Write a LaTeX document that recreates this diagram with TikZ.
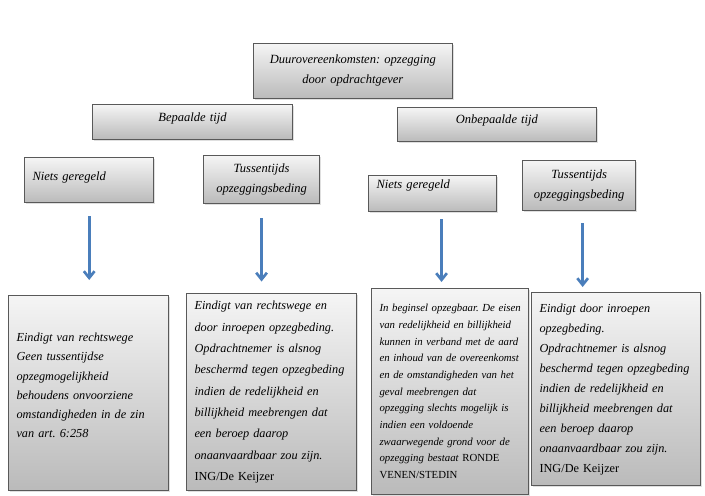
\documentclass[tikz,border=0pt]{standalone}
\usepackage{fontspec}
\setmainfont{Liberation Serif}
\usepackage{tikz}
\usetikzlibrary{positioning,shadows,arrows.meta}
\definecolor{boxline}{HTML}{595959}
\definecolor{arrowblue}{HTML}{4A7EBB}
\frenchspacing

\begin{document}
\begin{tikzpicture}[x=0.75pt,y=-0.75pt,
  box/.style = {draw=boxline, line width=0.8pt, top color=black!4, bottom color=black!27,
    drop shadow={opacity=0.25,shadow xshift=1.2pt,shadow yshift=-1.2pt},
    anchor=north west, inner ysep=0pt, inner xsep=6pt, font=\fontsize{9.4}{15}\selectfont\itshape},
  arr/.style = {draw=arrowblue, line width=2pt, -{Straight Barb[length=5pt,width=8pt]}}]
\useasboundingbox (0,0) rectangle (705,495);

% top levels
\node[box, text width=137pt, minimum height=41pt, align=center] (top) at (253,43)
  {Duurovereenkomsten: opzegging\\door opdrachtgever};
\node[box, text width=138pt, minimum height=26pt, align=center, text depth=7pt] (bep) at (92,104) {Bepaalde tijd};
\node[box, text width=137pt, minimum height=25.5pt, align=center, text depth=8pt] (onb) at (397,107) {Onbepaalde tijd};

\node[box, text width=85pt, minimum height=34pt, align=left, text depth=6pt] (niets1) at (24,157) {Niets geregeld};
\node[box, text width=75pt, minimum height=36pt, align=center] (tuss1) at (203,155) {Tussentijds\\opzeggingsbeding};
\node[box, text width=84pt, minimum height=27pt, align=left, text depth=14pt] (niets2) at (368,175) {Niets geregeld};
\node[box, text width=73pt, minimum height=37.5pt, align=center] (tuss2) at (522,160) {Tussentijds\\opzeggingsbeding};

% bottom boxes
\node[box, text width=108pt, minimum height=146pt, align=left, font=\fontsize{9.2}{14.3}\selectfont\itshape] (b1) at (8,295)
  {Eindigt van rechtswege\\Geen tussentijdse\\opzegmogelijkheid\\behoudens onvoorziene\\omstandigheden in de zin\\van art. 6:258\\[-3pt]\mbox{}};
\node[box, text width=115.5pt, minimum height=148pt, align=left, font=\fontsize{9.2}{16}\selectfont\itshape] (b2) at (186,293)
  {Eindigt van rechtswege en\\door inroepen opzegbeding.\\Opdrachtnemer is alsnog\\beschermd tegen opzegbeding\\indien de redelijkheid en\\billijkheid meebrengen dat\\een beroep daarop\\onaanvaardbaar zou zijn.\\{\upshape ING/De Keijzer}};
\node[box, text width=106pt, minimum height=154.5pt, align=left, font=\fontsize{8.1}{12.5}\selectfont\itshape] (b3) at (371,288)
  {In beginsel opzegbaar.\ De eisen\\van redelijkheid en billijkheid\\kunnen in verband met de aard\\en inhoud van de overeenkomst\\en de omstandigheden van het\\geval meebrengen dat\\opzegging\ slechts mogelijk is\\indien een voldoende\\zwaarwegende grond voor de\\opzegging\ bestaat {\upshape RONDE}\\{\upshape VENEN/STEDIN}};
\node[box, text width=115pt, minimum height=145pt, align=left, font=\fontsize{9.2}{15}\selectfont\itshape] (b4) at (531,292)
  {Eindigt door inroepen\\opzegbeding.\\Opdrachtnemer is alsnog\\beschermd tegen opzegbeding\\indien de redelijkheid en\\billijkheid meebrengen dat\\een beroep daarop\\onaanvaardbaar zou zijn.\\{\upshape ING/De Keijzer}};

% arrows
\draw[arr, shorten <=9.75pt, shorten >=11.25pt] (niets1.south) -- (niets1.south |- b1.north);
\draw[arr, shorten <=10.5pt, shorten >=8.6pt] (tuss1.south) -- (tuss1.south |- b2.north);
\draw[arr, shorten <=5.25pt, shorten >=4.5pt] ([xshift=6.75pt]niets2.south) -- ([xshift=6.75pt]niets2.south |- b3.north);
\draw[arr, shorten <=9pt, shorten >=3.75pt] ([xshift=2.6pt]tuss2.south) -- ([xshift=2.6pt]tuss2.south |- b4.north);
\end{tikzpicture}
\end{document}
